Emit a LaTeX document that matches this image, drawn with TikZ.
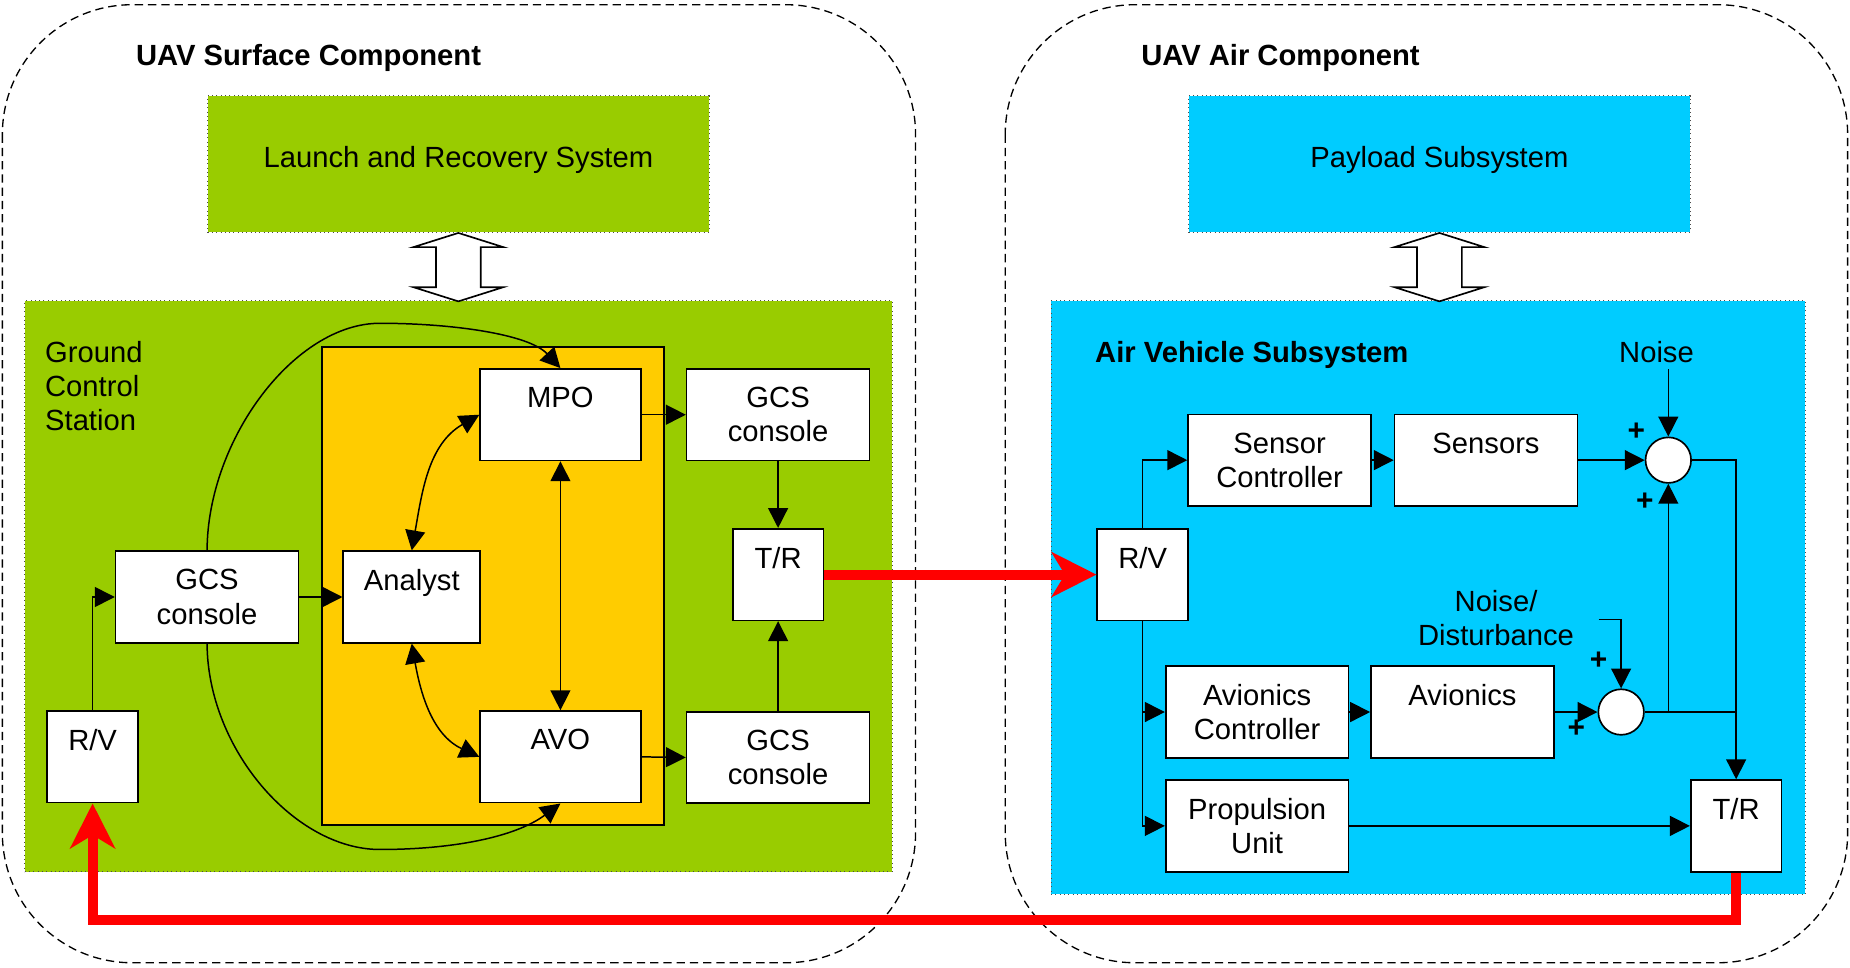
\documentclass[tikz,border=0pt]{standalone}
\usepackage{fontspec}
\setmainfont{Liberation Sans}
\usetikzlibrary{arrows.meta}
\definecolor{gcsgreen}{HTML}{99CC00}
\definecolor{avcyan}{HTML}{00CCFF}
\definecolor{opsorange}{HTML}{FFCC00}
\definecolor{linkred}{HTML}{FF0000}
\begin{document}
\begin{tikzpicture}[x=0.025cm, y=-0.025cm, font=\fontsize{17.6pt}{20.6pt}\selectfont,
    blk/.style={draw, fill=white, line width=1pt, align=center, inner sep=0pt, minimum height=1.94cm},
    widebox/.style={blk, minimum width=3.875cm},
    midbox/.style={blk, minimum width=3.4cm},
    narrowbox/.style={blk, minimum width=1.925cm},
    sumnode/.style={draw, fill=white, circle, line width=1pt, minimum size=0.965cm, inner sep=0pt},
    subsys/.style={draw=black!70, dotted, line width=0.6pt, inner sep=0pt},
    compbox/.style={draw, dash pattern=on 5pt off 3pt, line width=0.8pt, rounded corners=2.75cm},
    titlelbl/.style={anchor=north west, inner sep=0pt, font=\fontsize{17.6pt}{20.6pt}\selectfont\bfseries},
    pluslbl/.style={inner sep=0pt, font=\fontsize{18pt}{20pt}\selectfont\bfseries},
    arr/.style={-{Triangle[length=12pt,width=12pt]}, line width=0.9pt},
    dblarr/.style={{Triangle[length=12pt,width=12pt]}-{Triangle[length=12pt,width=12pt]}, line width=0.9pt},
    redarr/.style={-{Stealth[length=27pt,width=27pt,inset=8pt]}, line width=6pt, linkred},
    hollow/.style={draw, line width=1pt, fill=white}]
    \useasboundingbox (0,0) rectangle (1568,820);

    \draw[compbox] (2,4) rectangle (776,816);
    \draw[compbox] (852,4) rectangle (1566,816);
    \node[titlelbl] (surfttl) at (115,37) {UAV Surface Component};
    \node[titlelbl] (airttl) at (967,37) {UAV Air Component};

    \node[subsys, fill=gcsgreen, minimum width=10.625cm, minimum height=2.9cm, text depth=0.3cm] (lrs) at (388.5,139) {Launch and Recovery System};
    \node[subsys, fill=avcyan, minimum width=10.625cm, minimum height=2.9cm, text depth=0.3cm] (pls) at (1220,139) {Payload Subsystem};
    \node[subsys, fill=gcsgreen, minimum width=18.375cm, minimum height=12.1cm] (gcs) at (388.5,497) {};
    \node[subsys, fill=avcyan, minimum width=15.975cm, minimum height=12.575cm] (avs) at (1210.5,506.5) {};
    \node[draw, line width=1pt, fill=opsorange, minimum width=7.25cm, minimum height=10.125cm, inner sep=0pt] (ops) at (418,496.5) {};

    \draw[hollow] (lrs.south) -- ++(38,12) -- ++(-19,0) -- ++(0,34) -- ++(19,0) -- ++(-38,12) -- ++(-38,-12) -- ++(19,0) -- ++(0,-34) -- ++(-19,0) -- cycle;
    \draw[hollow] (pls.south) -- ++(38,12) -- ++(-19,0) -- ++(0,34) -- ++(19,0) -- ++(-38,12) -- ++(-38,-12) -- ++(19,0) -- ++(0,-34) -- ++(-19,0) -- cycle;

    \node[anchor=north west, align=left, inner sep=0pt] (gcslbl) at (38,289) {Ground\\Control\\Station};
    \node[titlelbl] (avslbl) at (928,289) {Air Vehicle Subsystem};
    \node[inner sep=4pt] (noise) at (1404,298) {Noise};
    \node[align=center, inner sep=0pt] (noisedist) at (1268,524) {Noise/\\Disturbance};

    \node[widebox] (gcsL) at (175.5,506) {GCS\\console};
    \node[blk, minimum width=2.9cm] (analyst) at (349,506) {Analyst\\\mbox{}};
    \node[midbox] (mpo) at (475,351.5) {MPO\\\mbox{}};
    \node[midbox] (avo) at (475,641.5) {AVO\\\mbox{}};
    \node[widebox] (gcsT) at (659.5,351.5) {GCS\\console};
    \node[widebox] (gcsB) at (659.5,642) {GCS\\console};
    \node[narrowbox] (trL) at (659.5,487) {T/R\\\mbox{}};
    \node[narrowbox] (rvL) at (78.5,641.5) {R/V\\\mbox{}};

    \node[widebox] (sensctl) at (1084.5,390) {Sensor\\Controller};
    \node[widebox] (sensors) at (1259.5,390) {Sensors\\\mbox{}};
    \node[sumnode] (sumA) at (1414,390) {};
    \node[narrowbox] (rvR) at (968.5,487) {R/V\\\mbox{}};
    \node[widebox] (avctl) at (1065.5,603.5) {Avionics\\Controller};
    \node[widebox] (avionics) at (1239.5,603.5) {Avionics\\\mbox{}};
    \node[sumnode] (sumB) at (1374,603.5) {};
    \node[widebox] (prop) at (1065.5,700) {Propulsion\\Unit};
    \node[narrowbox] (trR) at (1471.5,700) {T/R\\\mbox{}};

    \node[pluslbl] (pA1) at (1387,366) {+};
    \node[pluslbl] (pA2) at (1394,425) {+};
    \node[pluslbl] (pB1) at (1355,560) {+};
    \node[pluslbl] (pB2) at (1336,618) {+};
    \coordinate (nd) at (1355,525);

    \draw[arr] (rvL.north) |- (gcsL.west);
    \draw[arr] (gcsL.east) -- (analyst.west);
    \draw[arr] (gcsL.north) .. controls (176,372) and (250,274) .. (322,274) .. controls (382,274) and (448,283) .. (mpo.north);
    \draw[arr] (gcsL.south) .. controls (176,635) and (250,720) .. (322,720) .. controls (382,720) and (436,710) .. (avo.south);
    \draw[dblarr] (analyst.north) to[out=80, in=210] (mpo.west);
    \draw[dblarr] (analyst.south) to[out=-80, in=155] (avo.west);
    \draw[dblarr] (mpo.south) -- (avo.north);
    \draw[arr] (mpo.east) -- (gcsT.west);
    \draw[arr] (avo.east) -- (gcsB.west);
    \draw[arr] (gcsT.south) -- (trL.north);
    \draw[arr] (gcsB.north) -- (trL.south);

    \draw[arr] (rvR.north) |- (sensctl.west);
    \draw[arr] (sensctl.east) -- (sensors.west);
    \draw[arr] (sensors.east) -- (sumA.west);
    \draw[arr] (sumA.north |- noise.south) -- (sumA.north);
    \draw[arr] (sumA.east) -| (trR.north);
    \draw[arr] (rvR.south) |- (avctl.west);
    \draw[arr] (rvR.south) |- (prop.west);
    \draw[arr] (avctl.east) -- (avionics.west);
    \draw[arr] (avionics.east) -- (sumB.west);
    \draw[arr] (nd) -| (sumB.north);
    \draw[line width=0.9pt] (sumB.east) -- (sumB.east -| trR.north);
    \draw[arr] (sumA.south |- sumB.east) -- (sumA.south);
    \draw[arr] (prop.east) -- (trR.west);

    \draw[redarr] (trL.east) -- (rvR.west);
    \draw[redarr] (trR.south) -- ++(0,40) -| (rvL.south);
\end{tikzpicture}
\end{document}
